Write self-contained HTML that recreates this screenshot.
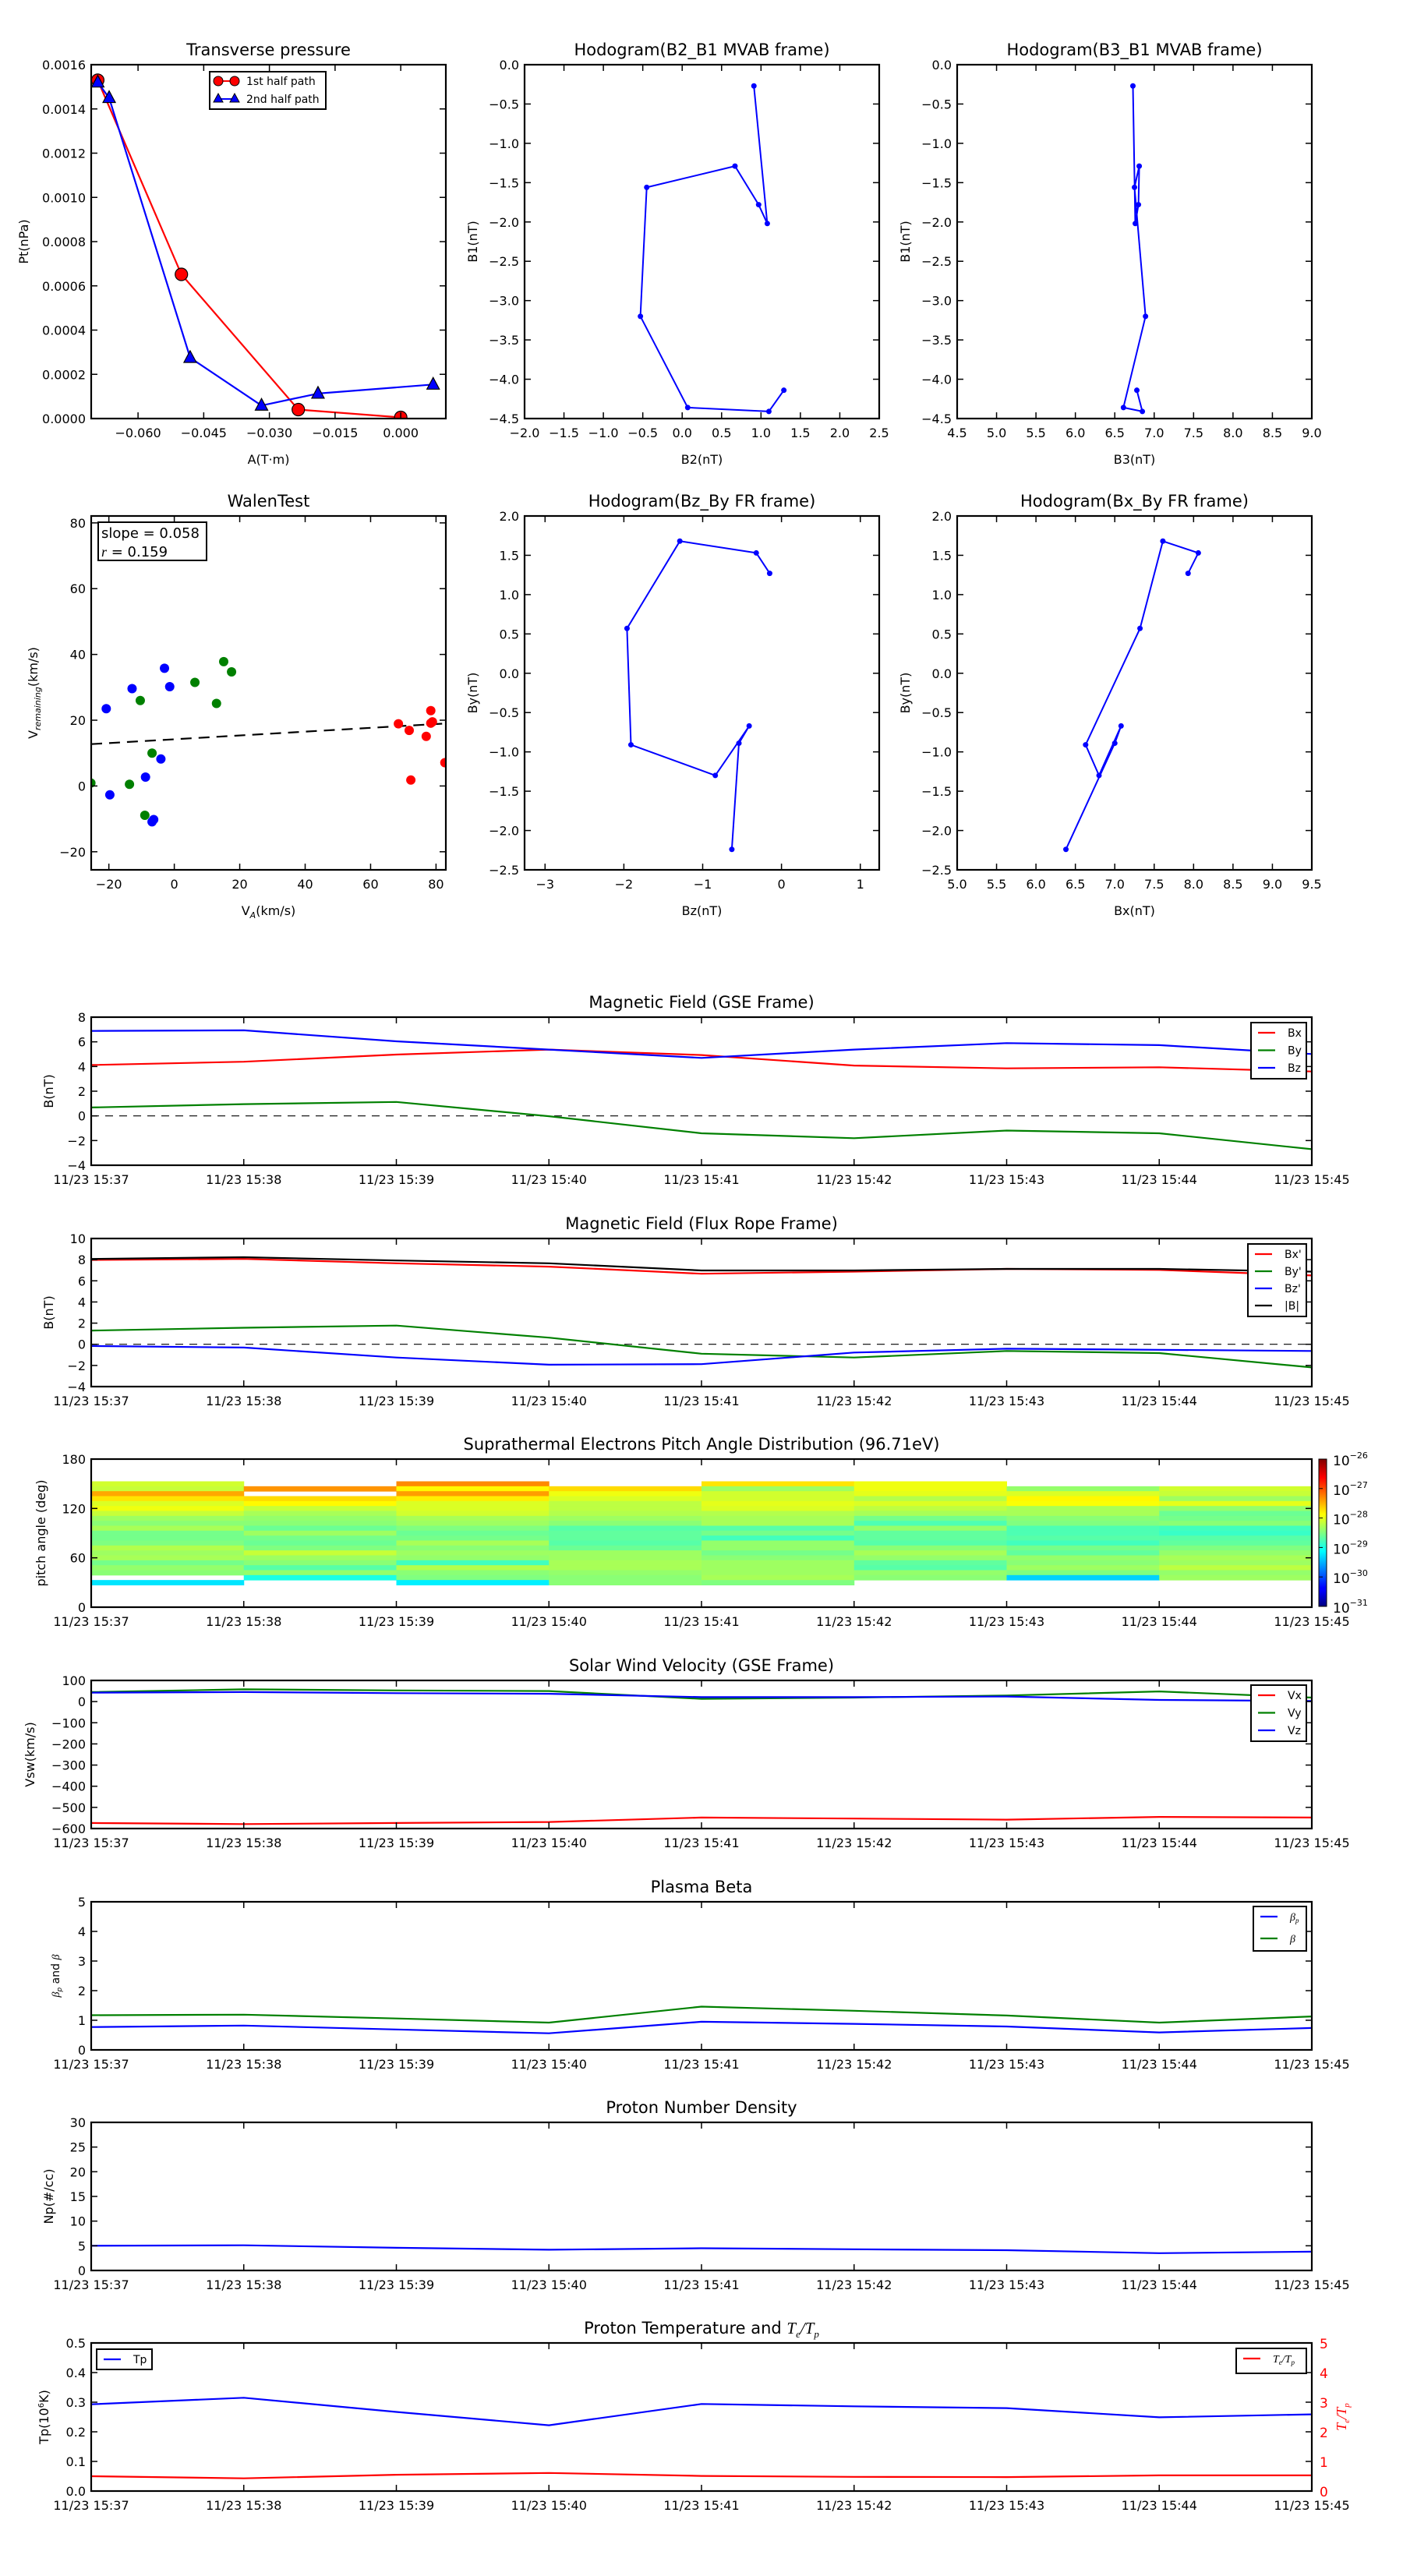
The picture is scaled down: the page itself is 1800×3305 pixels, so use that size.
<!DOCTYPE html>
<html><head><meta charset="utf-8"><style>
body{margin:0;background:#fff}
svg text{font-family:"DejaVu Sans","Liberation Sans",sans-serif}
</style></head><body>
<svg id="fig" xmlns="http://www.w3.org/2000/svg" width="1800" height="3300" viewBox="0 0 1800 3300">
<rect width="1800" height="3300" fill="#fff"/>
<defs><linearGradient id="jet" x1="0" y1="1" x2="0" y2="0">
<stop offset="0" stop-color="#00007f"/><stop offset="0.11" stop-color="#0000ff"/><stop offset="0.125" stop-color="#0000ff"/><stop offset="0.375" stop-color="#00ffff"/><stop offset="0.625" stop-color="#ffff00"/><stop offset="0.875" stop-color="#ff0000"/><stop offset="1" stop-color="#7f0000"/></linearGradient></defs>
</svg>
<script>
// ---------- data ----------
const ptA1=[-0.0692,-0.0501,-0.0234,0.0];
const ptP1=[0.00153,0.000652,0.0000404,0.0000054];
const ptA2=[-0.0692,-0.0666,-0.0481,-0.0318,-0.0189,0.0074];
const ptP2=[0.00152,0.00145,0.000275,0.000059,0.000113,0.000154];
const mvB2=[0.91,1.08,0.97,0.67,-0.45,-0.53,0.07,1.10,1.29];
const mvB3=[6.73,6.76,6.80,6.81,6.75,6.89,6.61,6.85,6.78];
const mvB1=[-0.27,-2.02,-1.78,-1.29,-1.56,-3.20,-4.36,-4.41,-4.14];
const frBz=[-0.15,-0.32,-1.29,-1.96,-1.91,-0.84,-0.41,-0.54,-0.63];
const frBx=[7.93,8.06,7.61,7.32,6.63,6.80,7.08,7.0,6.38];
const frBy=[1.27,1.53,1.68,0.57,-0.91,-1.30,-0.67,-0.89,-2.24];
const wBlueX=[-20.8,-19.7,-12.9,-8.8,-6.8,-6.3,-4.1,-3.0,-1.4];
const wBlueY=[23.5,-2.7,29.6,2.7,-10.9,-10.2,8.2,35.8,30.2];
const wGreenX=[-25.5,-13.7,-10.4,-9,-6.8,6.3,12.9,15.1,17.5];
const wGreenY=[0.9,0.5,26,-8.9,10,31.5,25.1,37.8,34.7];
const wRedX=[68.5,71.8,72.3,77,78.4,78.4,78.9,82.7];
const wRedY=[18.9,16.9,1.8,15.1,22.9,19.1,19.5,7.1];
const walenSlope=0.058, walenIntercept=14.2;
const timeLabels=["11/23 15:37","11/23 15:38","11/23 15:39","11/23 15:40","11/23 15:41","11/23 15:42","11/23 15:43","11/23 15:44","11/23 15:45"];
const gseBx=[4.12,4.39,4.97,5.37,4.93,4.08,3.85,3.94,3.6];
const gseBy=[0.68,0.95,1.13,-0.03,-1.41,-1.81,-1.19,-1.41,-2.70];
const gseBz=[6.88,6.93,6.04,5.37,4.70,5.37,5.90,5.73,5.01];
const frpBx=[7.97,8.07,7.66,7.34,6.67,6.87,7.13,7.03,6.51];
const frpBy=[1.30,1.56,1.77,0.63,-0.89,-1.25,-0.63,-0.83,-2.19];
const frpBz=[-0.16,-0.31,-1.25,-1.93,-1.88,-0.78,-0.42,-0.52,-0.63];
const frpB=[8.07,8.23,7.92,7.66,6.98,6.98,7.13,7.13,6.87];
const vx=[-574,-579,-574,-569,-548,-553,-558,-545,-548];
const vy=[45,58,53,50,13,19,29,48,19];
const vz=[42,45,40,37,21,21,24,8,3];
const betaP=[0.77,0.82,0.69,0.56,0.95,0.88,0.79,0.59,0.74];
const betaT=[1.17,1.19,1.06,0.92,1.46,1.32,1.16,0.92,1.13];
const np=[5.0,5.1,4.6,4.2,4.5,4.3,4.1,3.5,3.8];
const tp=[0.293,0.315,0.267,0.222,0.294,0.286,0.280,0.249,0.259];
const tetp=[0.50,0.43,0.55,0.61,0.51,0.48,0.47,0.53,0.53];
const padAngleTop=153, padBin=6;
const N=null;
const pad0=[-28.1,-28.15,-27.45,-27.75,-28.05,-27.95,-28.15,-28.35,-28.45,-28.3,-28.55,-28.55,-28.5,-28.25,-28.35,-28.3,-28.55,-28.4,-28.45,N,-29.25];
const pad1=[N,-27.35,N,-27.7,-27.85,-28.15,-28.3,-28.4,-28.45,-28.6,-28.35,-28.55,-28.6,-28.5,-28.15,-28.35,-28.45,-28.7,-28.4,-29.0,N];
const pad2=[-27.3,-27.85,-27.4,-27.8,-28.05,-28.05,-28.1,-28.3,-28.35,-28.5,-28.6,-28.55,-28.3,-28.45,-28.35,-28.4,-28.8,-28.25,-28.45,-28.5,-29.2];
const pad3=[N,-27.7,-27.95,-28.05,-28.2,-28.2,-28.25,-28.35,-28.45,-28.7,-28.65,-28.65,-28.7,-28.6,-28.35,-28.35,-28.3,-28.3,-28.4,-28.45,-28.45];
const pad4=[-27.75,-28.35,-28.1,-28.1,-28.0,-28.05,-28.25,-28.3,-28.3,-28.7,-28.55,-28.8,-28.4,-28.4,-28.55,-28.45,-28.35,-28.35,-28.35,-28.3,-28.5];
const pad5=[-27.95,-27.95,-28.0,-28.25,-28.05,-28.2,-28.3,-28.55,-28.75,-28.4,-28.65,-28.65,-28.7,-28.45,-28.3,-28.4,-28.65,-28.7,-28.4,-28.45,N];
const pad6=[N,-28.4,-28.05,-27.85,-27.9,-28.3,-28.3,-28.45,-28.5,-28.75,-28.75,-28.7,-28.8,-28.55,-28.65,-28.4,-28.45,-28.35,-28.5,-29.35,N];
const pad7=[N,-28.1,-28.15,-28.35,-28.0,-28.4,-28.6,-28.55,-28.45,-28.8,-28.85,-28.7,-28.65,-28.5,-28.4,-28.3,-28.35,-28.2,-28.4,-28.35,N];
const padCols=[pad0,pad1,pad2,pad3,pad4,pad5,pad6,pad7];

// ---------- helpers ----------
const svg=document.getElementById('fig');
const NS='http://www.w3.org/2000/svg';
function mk(tag,attrs,name,parent){
  const el=document.createElementNS(NS,tag);
  for(const k in attrs) el.setAttribute(k,attrs[k]);
  
  
  (parent||svg).appendChild(el);
  return el;
}
function txt(x,y,s,name,opt){
  opt=opt||{};
  const a={x:x,y:y,'font-size':opt.size||16,'text-anchor':opt.anchor||'middle',fill:opt.fill||'#000'};
  if(opt.rot) a.transform='rotate(-90 '+x+' '+y+')';
  if(opt.style) a['font-style']=opt.style;
  const t=mk('text',a,name);
  if(opt.html) t.innerHTML=s; else t.textContent=s;
  return t;
}
function fmt(v,d){const s=Math.abs(v).toFixed(d);return (v< -1e-12?'\u2212':'')+s;}
function axes(o){
  const ax=Object.assign({},o);
  ax.sx=v=>o.x0+(v-o.xmin)/(o.xmax-o.xmin)*o.w;
  ax.sy=v=>o.y0+o.h-(v-o.ymin)/(o.ymax-o.ymin)*o.h;
  ax.g=mk('g',{},o.name);
  const cp=mk('clipPath',{id:'c_'+o.name},'clip-'+o.name,ax.g);
  mk('rect',{x:o.x0,y:o.y0,width:o.w,height:o.h},'clip-rect',cp);
  ax.plot=mk('g',{'clip-path':'url(#c_'+o.name+')'},'plot-area',ax.g);
  return ax;
}
function frame(ax){
  const o=ax, L=8;
  o.xticks.forEach((v,i)=>{
    const x=ax.sx(v);
    mk('line',{x1:x,x2:x,y1:o.y0+o.h,y2:o.y0+o.h-L,stroke:'#000','stroke-width':1.5},'x-tick',ax.g);
    mk('line',{x1:x,x2:x,y1:o.y0,y2:o.y0+L,stroke:'#000','stroke-width':1.5},'x-tick-top',ax.g);
    txt(x,o.y0+o.h+24,o.xlabels[i],'x-tick-label');
  });
  o.yticks.forEach((v,i)=>{
    const y=ax.sy(v);
    mk('line',{x1:o.x0,x2:o.x0+L,y1:y,y2:y,stroke:'#000','stroke-width':1.5},'y-tick',ax.g);
    mk('line',{x1:o.x0+o.w,x2:o.x0+o.w-L,y1:y,y2:y,stroke:'#000','stroke-width':1.5},'y-tick-right',ax.g);
    txt(o.x0-7,y+6,o.ylabels[i],'y-tick-label',{anchor:'end'});
  });
  mk('rect',{x:o.x0,y:o.y0,width:o.w,height:o.h,fill:'none',stroke:'#000','stroke-width':2.2},'axes-frame',ax.g);
  if(o.title) txt(o.x0+o.w/2,o.y0-12,o.title,'chart-title',{size:21,html:!!o.titleHtml});
}
function pline(ax,xs,ys,color,name,w,dash){
  const pts=xs.map((x,i)=>ax.sx(x).toFixed(1)+','+ax.sy(ys[i]).toFixed(1)).join(' ');
  const a={points:pts,fill:'none',stroke:color,'stroke-width':w||2.2,'stroke-linejoin':'round'};
  if(dash) a['stroke-dasharray']=dash;
  return mk('polyline',a,name,ax.plot);
}
function dots(ax,xs,ys,color,r,name,stroke){
  xs.forEach((x,i)=>{
    const a={cx:ax.sx(x),cy:ax.sy(ys[i]),r:r,fill:color};
    if(stroke){a.stroke='#000';a['stroke-width']=1.2;}
    mk('circle',a,name,ax.plot);
  });
}
function tris(ax,xs,ys,color,name){
  xs.forEach((x,i)=>{
    const cx=ax.sx(x),cy=ax.sy(ys[i]);
    mk('polygon',{points:(cx)+','+(cy-9)+' '+(cx-8)+','+(cy+6)+' '+(cx+8)+','+(cy+6),fill:color,stroke:'#000','stroke-width':1.2},name,ax.plot);
  });
}
function rng(a,b,s){const r=[];for(let v=a;v<=b+1e-9;v+=s)r.push(+v.toFixed(6));return r;}
function legend(x,y,w,h,entries,name){
  const g=mk('g',{},name);
  mk('rect',{x:x,y:y,width:w,height:h,fill:'#fff',stroke:'#000','stroke-width':2},'legend-box',g);
  entries.forEach((e,i)=>{
    const yy=y+13+i*e.step;
    mk('line',{x1:x+9,x2:x+31,y1:yy,y2:yy,stroke:e.c,'stroke-width':2.2},'legend-swatch',g);
    const t=mk('text',{x:x+47,y:yy+5,'font-size':14,fill:'#000'},'legend-entry',g);
    t.innerHTML=e.t;
  });
}

// ---------- top row ----------
const R1y=83,R1h=454,R2y=662,R2h=454;
const C=[117,673,1228],W=455;
let a=axes({name:'transverse-pressure-chart',x0:C[0],y0:R1y,w:W,h:R1h,xmin:-0.0707,xmax:0.0103,ymin:0,ymax:0.0016,
 xticks:[-0.06,-0.045,-0.03,-0.015,0],xlabels:['\u22120.060','\u22120.045','\u22120.030','\u22120.015','0.000'],
 yticks:rng(0,0.0016,0.0002),ylabels:rng(0,0.0016,0.0002).map(v=>v.toFixed(4)),title:'Transverse pressure'});
pline(a,ptA1,ptP1,'#f00','first-half-line');
pline(a,ptA2,ptP2,'#00f','second-half-line');
dots(a,ptA1,ptP1,'#f00',8,'first-half-marker',true);
tris(a,ptA2,ptP2,'#00f','second-half-marker');
frame(a);
(function(){const g=mk('g',{},'pressure-legend');
 mk('rect',{x:269,y:92,width:149,height:48,fill:'#fff',stroke:'#000','stroke-width':2},'legend-box',g);
 mk('line',{x1:280,x2:301,y1:104,y2:104,stroke:'#f00','stroke-width':2},'legend-swatch',g);
 mk('circle',{cx:280,cy:104,r:6,fill:'#f00',stroke:'#000'},'legend-marker',g);
 mk('circle',{cx:301,cy:104,r:6,fill:'#f00',stroke:'#000'},'legend-marker',g);
 mk('line',{x1:280,x2:301,y1:127,y2:127,stroke:'#00f','stroke-width':2},'legend-swatch',g);
 mk('polygon',{points:'280,120 274,131 286,131',fill:'#00f',stroke:'#000'},'legend-marker',g);
 mk('polygon',{points:'301,120 295,131 307,131',fill:'#00f',stroke:'#000'},'legend-marker',g);
 let t=mk('text',{x:316,y:109,'font-size':14},'legend-entry',g);t.textContent='1st half path';
 t=mk('text',{x:316,y:132,'font-size':14},'legend-entry',g);t.textContent='2nd half path';})();
txt(C[0]+W/2,R1y+R1h+58,'A(T\u00b7m)','x-axis-title');
txt(36,R1y+R1h/2,'Pt(nPa)','y-axis-title',{rot:true});

a=axes({name:'hodogram-b2-b1-chart',x0:C[1],y0:R1y,w:W,h:R1h,xmin:-2,xmax:2.5,ymin:-4.5,ymax:0,
 xticks:rng(-2,2.5,0.5),xlabels:rng(-2,2.5,0.5).map(v=>fmt(v,1)),yticks:rng(-4.5,0,0.5),ylabels:rng(-4.5,0,0.5).map(v=>fmt(v,1)),title:'Hodogram(B2_B1 MVAB frame)'});
pline(a,mvB2,mvB1,'#00f','hodogram-line',2);dots(a,mvB2,mvB1,'#00f',3.5,'hodogram-point');frame(a);
txt(C[1]+W/2,R1y+R1h+58,'B2(nT)','x-axis-title');txt(612,R1y+R1h/2,'B1(nT)','y-axis-title',{rot:true});
a=axes({name:'hodogram-b3-b1-chart',x0:C[2],y0:R1y,w:W,h:R1h,xmin:4.5,xmax:9,ymin:-4.5,ymax:0,
 xticks:rng(4.5,9,0.5),xlabels:rng(4.5,9,0.5).map(v=>fmt(v,1)),yticks:rng(-4.5,0,0.5),ylabels:rng(-4.5,0,0.5).map(v=>fmt(v,1)),title:'Hodogram(B3_B1 MVAB frame)'});
pline(a,mvB3,mvB1,'#00f','hodogram-line',2);dots(a,mvB3,mvB1,'#00f',3.5,'hodogram-point');frame(a);
txt(C[2]+W/2,R1y+R1h+58,'B3(nT)','x-axis-title');txt(1167,R1y+R1h/2,'B1(nT)','y-axis-title',{rot:true});

a=axes({name:'walen-test-chart',x0:C[0],y0:R2y,w:W,h:R2h,xmin:-25.4,xmax:83,ymin:-25.5,ymax:82.1,
 xticks:rng(-20,80,20),xlabels:rng(-20,80,20).map(v=>fmt(v,0)),yticks:rng(-20,80,20),ylabels:rng(-20,80,20).map(v=>fmt(v,0)),title:'WalenTest'});
pline(a,[-25.4,83],[-25.4*walenSlope+walenIntercept,83*walenSlope+walenIntercept],'#000','fit-line',2.2,'14,9');
dots(a,wBlueX,wBlueY,'#00f',6,'walen-point-blue');dots(a,wGreenX,wGreenY,'#008000',6,'walen-point-green');dots(a,wRedX,wRedY,'#f00',6,'walen-point-red');
frame(a);
mk('rect',{x:126,y:670,width:139,height:49,fill:'#fff',stroke:'#000','stroke-width':2},'stats-box');
txt(130,690,'slope = 0.058','stats-slope',{anchor:'start',size:18});
txt(130,714,'<tspan font-style="italic" font-family="Liberation Serif">r</tspan> = 0.159','stats-r',{anchor:'start',size:18,html:true});
txt(C[0]+W/2,R2y+R2h+58,'V<tspan font-size="11" dy="4" font-style="italic">A</tspan><tspan dy="-4">(km/s)</tspan>','x-axis-title',{html:true});
txt(48,R2y+R2h/2,'V<tspan font-size="11" dy="4" font-style="italic">remaining</tspan><tspan dy="-4">(km/s)</tspan>','y-axis-title',{rot:true,html:true});
a=axes({name:'hodogram-bz-by-chart',x0:C[1],y0:R2y,w:W,h:R2h,xmin:-3.26,xmax:1.24,ymin:-2.5,ymax:2,
 xticks:[-3,-2,-1,0,1],xlabels:['\u22123','\u22122','\u22121','0','1'],yticks:rng(-2.5,2,0.5),ylabels:rng(-2.5,2,0.5).map(v=>fmt(v,1)),title:'Hodogram(Bz_By FR frame)'});
pline(a,frBz,frBy,'#00f','hodogram-line',2);dots(a,frBz,frBy,'#00f',3.5,'hodogram-point');frame(a);
txt(C[1]+W/2,R2y+R2h+58,'Bz(nT)','x-axis-title');txt(612,R2y+R2h/2,'By(nT)','y-axis-title',{rot:true});
a=axes({name:'hodogram-bx-by-chart',x0:C[2],y0:R2y,w:W,h:R2h,xmin:5,xmax:9.5,ymin:-2.5,ymax:2,
 xticks:rng(5,9.5,0.5),xlabels:rng(5,9.5,0.5).map(v=>fmt(v,1)),yticks:rng(-2.5,2,0.5),ylabels:rng(-2.5,2,0.5).map(v=>fmt(v,1)),title:'Hodogram(Bx_By FR frame)'});
pline(a,frBx,frBy,'#00f','hodogram-line',2);dots(a,frBx,frBy,'#00f',3.5,'hodogram-point');frame(a);
txt(C[2]+W/2,R2y+R2h+58,'Bx(nT)','x-axis-title');txt(1167,R2y+R2h/2,'By(nT)','y-axis-title',{rot:true});

// ---------- time series ----------
const TX=117,TW=1566,TH=190;
const tops=[1305,1589,1872,2156,2440,2723,3006];
const tIdx=timeLabels.map((_,i)=>i);
function tax(k,name,ymin,ymax,yt,yl,title,titleHtml){
  return axes({name:name,x0:TX,y0:tops[k],w:TW,h:TH,xmin:0,xmax:8,ymin:ymin,ymax:ymax,xticks:tIdx,xlabels:timeLabels,yticks:yt,ylabels:yl,title:title,titleHtml:titleHtml});
}
a=tax(0,'magnetic-field-gse-chart',-4,8,rng(-4,8,2),rng(-4,8,2).map(v=>fmt(v,0)),'Magnetic Field (GSE Frame)');
pline(a,[0,8],[0,0],'#000','zero-line',1.2,'10,8');
pline(a,tIdx,gseBx,'#f00','bx-line');pline(a,tIdx,gseBy,'#008000','by-line');pline(a,tIdx,gseBz,'#00f','bz-line');
frame(a);
legend(1605,1312,71,72,[{c:'#f00',t:'Bx',step:22.5},{c:'#008000',t:'By',step:22.5},{c:'#00f',t:'Bz',step:22.5}],'gse-legend');
txt(68,tops[0]+TH/2,'B(nT)','y-axis-title',{rot:true});
a=tax(1,'magnetic-field-flux-rope-chart',-4,10,rng(-4,10,2),rng(-4,10,2).map(v=>fmt(v,0)),'Magnetic Field (Flux Rope Frame)');
pline(a,[0,8],[0,0],'#000','zero-line',1.2,'10,8');
pline(a,tIdx,frpBx,'#f00','bx-prime-line');pline(a,tIdx,frpBy,'#008000','by-prime-line');pline(a,tIdx,frpBz,'#00f','bz-prime-line');pline(a,tIdx,frpB,'#000','b-magnitude-line');
frame(a);
legend(1601,1596,75,93,[{c:'#f00',t:"Bx'",step:22},{c:'#008000',t:"By'",step:22},{c:'#00f',t:"Bz'",step:22},{c:'#000',t:'|B|',step:22}],'flux-rope-legend');
txt(68,tops[1]+TH/2,'B(nT)','y-axis-title',{rot:true});
function jet(v){const t=Math.max(0,Math.min(1,(v+31)/5));const c=x=>Math.round(255*Math.max(0,Math.min(1,1.5-Math.abs(4*t-x))));return 'rgb('+c(3)+','+c(2)+','+c(1)+')';}
a=tax(2,'pitch-angle-distribution-chart',0,180,[0,60,120,180],['0','60','120','180'],'Suprathermal Electrons Pitch Angle Distribution (96.71eV)');
padCols.forEach((col,ci)=>{col.forEach((v,ri)=>{
  if(v===null) return;
  const hiA=padAngleTop-ri*padBin, loA=hiA-padBin;
  const x1=a.sx(ci),x2=a.sx(ci+1),y1=a.sy(hiA),y2=a.sy(loA);
  mk('rect',{x:x1,y:y1,width:x2-x1+0.5,height:y2-y1+0.5,fill:jet(v)},'pad-cell',a.plot);
});});
frame(a);
txt(58,tops[2]+TH/2,'pitch angle (deg)','y-axis-title',{rot:true});
mk('rect',{x:1692,y:1872,width:10,height:189,fill:'url(#jet)',stroke:'#000','stroke-width':1},'colorbar');
[-26,-27,-28,-29,-30,-31].forEach((e,i)=>{
  const y=1872+i*189/5;
  mk('line',{x1:1692,x2:1697,y1:y,y2:y,stroke:'#000'},'colorbar-tick');
  txt(1710,y+8,'10<tspan font-size="11" dy="-9">\u2212'+(-e)+'</tspan>','colorbar-label',{anchor:'start',size:17,html:true});
});
a=tax(3,'solar-wind-velocity-chart',-600,100,rng(-600,100,100),rng(-600,100,100).map(v=>fmt(v,0)),'Solar Wind Velocity (GSE Frame)');
pline(a,tIdx,vx,'#f00','vx-line');pline(a,tIdx,vy,'#008000','vy-line');pline(a,tIdx,vz,'#00f','vz-line');
frame(a);
legend(1605,2162,71,72,[{c:'#f00',t:'Vx',step:22.5},{c:'#008000',t:'Vy',step:22.5},{c:'#00f',t:'Vz',step:22.5}],'velocity-legend');
txt(44,tops[3]+TH/2,'Vsw(km/s)','y-axis-title',{rot:true});
a=tax(4,'plasma-beta-chart',0,5,rng(0,5,1),rng(0,5,1).map(v=>fmt(v,0)),'Plasma Beta');
pline(a,tIdx,betaP,'#00f','beta-p-line');pline(a,tIdx,betaT,'#008000','beta-line');
frame(a);
legend(1608,2446,68,57,[{c:'#00f',t:'<tspan font-style="italic" font-family="Liberation Serif">β<tspan font-size="9" dy="3">p</tspan></tspan>',step:28},{c:'#008000',t:'<tspan font-style="italic" font-family="Liberation Serif">β</tspan>',step:28}],'beta-legend');
txt(76,tops[4]+TH/2,'<tspan font-style="italic" font-family="Liberation Serif">β</tspan><tspan font-size="9" dy="3" font-style="italic">p</tspan><tspan dy="-3"> and </tspan><tspan font-style="italic" font-family="Liberation Serif">β</tspan>','y-axis-title',{rot:true,html:true,size:14});
a=tax(5,'proton-density-chart',0,30,rng(0,30,5),rng(0,30,5).map(v=>fmt(v,0)),'Proton Number Density');
pline(a,tIdx,np,'#00f','density-line');frame(a);
txt(68,tops[5]+TH/2,'Np(#/cc)','y-axis-title',{rot:true});
a=tax(6,'proton-temperature-chart',0,0.5,rng(0,0.5,0.1),rng(0,0.5,0.1).map(v=>v.toFixed(1)),'Proton Temperature and <tspan font-style="italic" font-family="Liberation Serif">T<tspan font-size="13" dy="5">e</tspan><tspan dy="-5">/T</tspan><tspan font-size="13" dy="5">p</tspan></tspan>',true);
const a2=Object.assign({},a);a2.sy=v=>a.y0+a.h-v/5*a.h;
pline(a,tIdx,tp,'#00f','tp-line');pline(a2,tIdx,tetp,'#f00','te-tp-line');
frame(a);
[0,1,2,3,4,5].forEach(v=>txt(1693,a2.sy(v)+7,String(v),'right-tick-label',{anchor:'start',fill:'#f00',size:17}));
legend(124,3014,71,26,[{c:'#00f',t:'Tp',step:0}],'tp-legend');
legend(1586,3013,90,32,[{c:'#f00',t:'<tspan font-style="italic" font-family="Liberation Serif">T<tspan font-size="9" dy="3">e</tspan><tspan dy="-3">/T</tspan><tspan font-size="9" dy="3">p</tspan></tspan>',step:0}],'te-tp-legend');
txt(62,tops[6]+TH/2,'Tp(10<tspan font-size="10" dy="-6">6</tspan><tspan dy="6">K)</tspan>','y-axis-title',{rot:true,html:true});
txt(1727,tops[6]+TH/2,'<tspan font-style="italic" font-family="Liberation Serif">T<tspan font-size="11" dy="4">e</tspan><tspan dy="-4">/T</tspan><tspan font-size="11" dy="4">p</tspan></tspan>','right-axis-title',{rot:true,html:true,fill:'#f00',size:18});
</script>
</body></html>
